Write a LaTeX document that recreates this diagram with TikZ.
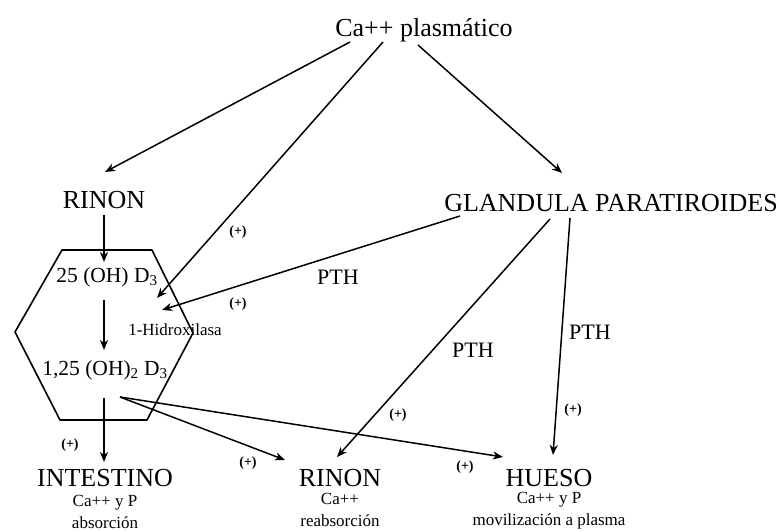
\documentclass[tikz,border=0pt]{standalone}
\usepackage{fontspec}
\setmainfont{Liberation Serif}
\usetikzlibrary{arrows.meta}
\tikzset{
  big/.style={font=\fontsize{26}{28}\selectfont, inner sep=0pt},
  mid/.style={font=\fontsize{21.5}{23}\selectfont, inner sep=0pt},
  pth/.style={font=\fontsize{22}{24}\selectfont, inner sep=0pt},
  small/.style={font=\fontsize{17}{18}\selectfont, inner sep=0pt},
  plus/.style={font=\fontsize{14}{15}\selectfont\bfseries, inner sep=0pt},
  arr/.style={line width=1.5pt, -{Stealth[length=10pt,width=8pt,inset=3pt]}},
  hexline/.style={line width=1.6pt, line join=round}
}
\begin{document}
\begin{tikzpicture}[x=1pt,y=-1pt]
\useasboundingbox (0,0) rectangle (781,532);

% hexagon
\draw[hexline] (62,250) -- (152,250) -- (193,333) -- (147,420) -- (60,420) -- (15,332) -- cycle;

% nodes
\node[big] (ca) at (424,30) {Ca++ plasmático};
\node[big] (rin1) at (104,200) {RINON};
\node[big] (gl) at (611,203) {GLANDULA PARATIROIDES};
\node[mid] (d25) at (107,277) {25 (OH) D\textsubscript{3}};
\node[small] (hid) at (175,330) {1-Hidroxilasa};
\node[mid] (d125) at (105,370) {1,25 (OH)\textsubscript{2} D\textsubscript{3}};

\node[big] (int) at (105,478) {INTESTINO};
\node[small] (inta) at (105,503) {Ca++ y P};
\node[small] (intb) at (105,523) {absorción};

\node[big] (rin2) at (340,478) {RINON};
\node[small] (rina) at (340,499) {Ca++};
\node[small] (rinb) at (340,521) {reabsorción};

\node[big] (hue) at (549,478) {HUESO};
\node[small] (huea) at (549,500) {Ca++ y P};
\node[small] (hueb) at (549,521) {movilización a plasma};

% labels
\node[pth] (pth1) at (338,277) {PTH};
\node[pth] (pth2) at (473,350) {PTH};
\node[pth] (pth3) at (590,332) {PTH};

\node[plus] (p1) at (238,232) {(+)};
\node[plus] (p2) at (238,304) {(+)};
\node[plus] (p3) at (70,445) {(+)};
\node[plus] (p4) at (248,463) {(+)};
\node[plus] (p5) at (465,467) {(+)};
\node[plus] (p6) at (398,415) {(+)};
\node[plus] (p7) at (573,410) {(+)};

% connector end points
\coordinate (caA) at (350,42);
\coordinate (caB) at (383,42);
\coordinate (caC) at (418,45);
\coordinate (rin1In) at (105,172);
\coordinate (d25In) at (157,298);
\coordinate (glIn) at (562,173);
\coordinate (rin1Out) at (104,215);
\coordinate (hexIn) at (104,262);
\coordinate (d25Out) at (104,300);
\coordinate (d125In) at (104,350);
\coordinate (glA) at (460,216);
\coordinate (glB) at (550,219);
\coordinate (glC) at (570,218);
\coordinate (hidIn) at (162,310);
\coordinate (rin2InA) at (337,457);
\coordinate (rin2InB) at (285,460);
\coordinate (hueInA) at (553,455);
\coordinate (hueInB) at (503,457);
\coordinate (d125OutA) at (104,398);
\coordinate (d125OutB) at (120,397);
\coordinate (intIn) at (104,462);

% connectors
\draw[arr] (caA) -- (rin1In);
\draw[arr] (caB) -- (d25In);
\draw[arr] (caC) -- (glIn);
\draw[arr] (rin1Out) -- (hexIn);
\draw[arr] (d25Out) -- (d125In);
\draw[arr] (glA) -- (hidIn);
\draw[arr] (glB) -- (rin2InA);
\draw[arr] (glC) -- (hueInA);
\draw[arr] (d125OutA) -- (intIn);
\draw[arr] (d125OutB) -- (rin2InB);
\draw[arr] (d125OutB) -- (hueInB);
\end{tikzpicture}
\end{document}
